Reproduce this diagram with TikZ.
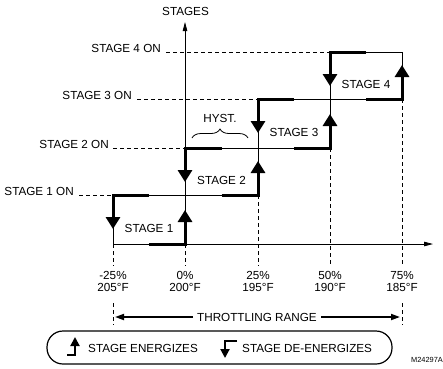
\documentclass[tikz,border=0pt]{standalone}
\usepackage{fontspec}
\setmainfont{Liberation Sans}
\usetikzlibrary{arrows.meta, decorations.pathreplacing}

\begin{document}
\begin{tikzpicture}[x=1pt, y=-1pt, font=\fontsize{11.7}{12}\selectfont]
\tikzset{
    thinline/.style={draw=black, line width=0.8pt},
    guide/.style={draw=black, line width=0.8pt, dash pattern=on 4pt off 3pt},
    axisline/.style={-{Triangle[length=9pt, width=4.5pt]}, line width=0.8pt},
    onpath/.style={-{Triangle[length=12pt, width=14pt]}, line width=3pt},
    onkey/.style={-{Triangle[length=9pt, width=9pt]}, line width=2pt},
    rangearrow/.style={-{Triangle[length=9pt, width=6pt]}, line width=1.8pt},
    stagelbl/.style={inner sep=0pt},
    onlbl/.style={anchor=base east, inner sep=0pt},
    ticklbl/.style={align=center, inner sep=0pt},
    keylbl/.style={anchor=west, inner sep=0pt},
    legendbox/.style={draw=black, line width=1.2pt, rounded corners=16pt}
}
\useasboundingbox (0,0) rectangle (443,368);

% stage boxes: thin outline, then the switching paths
\foreach \k/\l/\r/\t/\b in {1/113/185/195/244, 2/185/258/148/195, 3/258/330/99/148, 4/330/402/52/99}{
    \coordinate (tl_\k) at (\l,\t);
    \coordinate (tr_\k) at (\r,\t);
    \coordinate (bl_\k) at (\l,\b);
    \coordinate (br_\k) at (\r,\b);
    \coordinate (tm_\k) at ({(\l+\r)/2},\t);
    \coordinate (bm_\k) at ({(\l+\r)/2},\b);
    \coordinate (dn_\k) at (\l,\t+34);
    \coordinate (up_\k) at (\r,\b-34);
    \draw[thinline] (bl_\k) rectangle (tr_\k);
    \draw[onpath] (tm_\k) -- (tl_\k) -- (dn_\k);
    \draw[onpath] (bm_\k) -- (br_\k) -- (up_\k);
    \node[stagelbl] (stage_\k) at ({(\l+\r)/2},{(\t+\b)/2+8.5}) {STAGE \k};
}

% axes
\coordinate (y_top) at (185,22);
\coordinate (x_end) at (433,244);
\draw[axisline] (br_1) -- (y_top);
\draw[axisline] (bl_1) -- (x_end);
\node (stages) at (185.5,11) {STAGES};

% stage on levels
\node[onlbl] (on_4) at (161,52) {STAGE 4 ON};
\node[onlbl] (on_3) at (132,99) {STAGE 3 ON};
\node[onlbl] (on_2) at (109,148) {STAGE 2 ON};
\node[onlbl] (on_1) at (74,195) {STAGE 1 ON};
\draw[guide] ([xshift=5pt]on_4.base east) -- (tl_4);
\draw[guide] ([xshift=5pt]on_3.base east) -- (tl_3);
\draw[guide] ([xshift=4pt]on_2.base east) -- (tl_2);
\draw[guide] ([xshift=5pt]on_1.base east) -- (tl_1);

% hysteresis
\node (hyst) at (220,118) {HYST.};
\coordinate (hyst_l) at (192,138);
\coordinate (hyst_r) at (248,138);
\draw[decorate, decoration={brace, amplitude=9pt}, line width=0.8pt] (hyst_l) -- (hyst_r);

% percent / temperature ticks
\coordinate (tk_0) at (113,266);
\coordinate (tk_1) at (185,266);
\coordinate (tk_2) at (258,266);
\coordinate (tk_3) at (330,266);
\coordinate (tk_4) at (402,266);
\draw[guide] (bl_1) -- (tk_0);
\draw[guide] (br_1) -- (tk_1);
\draw[guide] (br_2) -- (tk_2);
\draw[guide] (br_3) -- (tk_3);
\draw[guide] (br_4) -- (tk_4);
\node[ticklbl] (pct_0) at (113,281.5) {-25\%\\205°F};
\node[ticklbl] (pct_1) at (185,281.5) {0\%\\200°F};
\node[ticklbl] (pct_2) at (258,281.5) {25\%\\195°F};
\node[ticklbl] (pct_3) at (330,281.5) {50\%\\190°F};
\node[ticklbl] (pct_4) at (402,281.5) {75\%\\185°F};

% throttling range
\coordinate (lo_0a) at (113,303);
\coordinate (lo_0b) at (113,325);
\coordinate (lo_4a) at (402,303);
\coordinate (lo_4b) at (402,325);
\draw[guide] (lo_0a) -- (lo_0b);
\draw[guide] (lo_4a) -- (lo_4b);
\node[inner xsep=4pt] (range) at (257,317) {THROTTLING RANGE};
\coordinate (rng_l) at (115,317);
\coordinate (rng_r) at (400,317);
\draw[rangearrow] (range.west) -- (rng_l);
\draw[rangearrow] (range.east) -- (rng_r);

% legend
\draw[legendbox] (47,331) rectangle (392,364);
\coordinate (en_a) at (67,355);
\coordinate (en_b) at (75,355);
\coordinate (en_c) at (75,337);
\draw[onkey] (en_a) -- (en_b) -- (en_c);
\node[keylbl] (en_txt) at (88,348) {STAGE ENERGIZES};
\coordinate (de_a) at (237,341);
\coordinate (de_b) at (225,341);
\coordinate (de_c) at (225,358);
\draw[onkey] (de_a) -- (de_b) -- (de_c);
\node[keylbl] (de_txt) at (242,348) {STAGE DE-ENERGIZES};

\node[anchor=east, inner sep=0pt, font=\fontsize{7.4}{8}\selectfont] (fig_id) at (443,360) {M24297A};
\end{tikzpicture}
\end{document}
